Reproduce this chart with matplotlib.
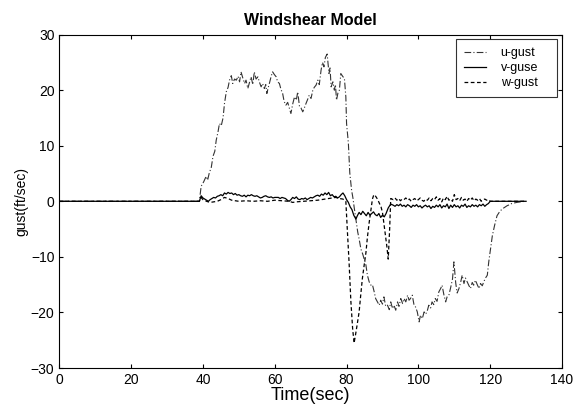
import matplotlib
matplotlib.use("Agg")
import matplotlib.pyplot as plt

# u-gust (dash-dot)
u_time = [0, 39, 39.5, 40.2, 40.9, 41.3, 41.8, 42.3, 42.8, 43.3, 43.7, 44.2, 44.6, 45.1,
          45.6, 46, 46.5, 47, 47.4, 47.9, 48.3, 48.8, 49.3, 49.8, 50.2, 50.6, 51.1, 51.6,
          52, 52.5, 53, 53.4, 53.9, 54.3, 54.8, 55.3, 55.7, 56.2, 56.6, 57.1, 57.5, 57.8,
          58.2, 58.5, 59, 59.4, 59.9, 60.4, 60.8, 61.3, 61.7, 62.2, 62.6, 63.1, 63.6, 64.1,
          64.5, 65, 65.5, 66, 66.4, 66.9, 67.3, 67.8, 68.3, 68.7, 69.2, 69.6, 70.1, 70.6,
          71, 71.5, 72, 72.4, 72.9, 73.3, 73.7, 74.1, 74.6, 75.1, 75.4, 75.7, 76.2, 76.6,
          76.9, 77.2, 77.6, 78, 78.4, 78.9, 79.4, 79.8, 80, 80.5, 80.9, 81.4, 81.8, 82.1,
          82.6, 83.1, 83.5, 84, 84.5, 84.9, 85.4, 85.8, 86.3, 86.8, 87.2, 87.7, 88.1, 88.6,
          89.1, 89.5, 90, 90.4, 90.9, 91.4, 91.9, 92.3, 92.8, 93.2, 93.7, 94.2, 94.6, 95.1,
          95.6, 96, 96.5, 97, 97.4, 97.8, 98.3, 98.8, 99.2, 99.7, 100.2, 100.6, 101.1, 101.6,
          102, 102.4, 102.9, 103.4, 103.8, 104.3, 104.7, 105.2, 105.7, 106.2, 106.6, 107.1,
          107.6, 108, 108.5, 109, 109.5, 109.9, 110.4, 110.8, 111.3, 111.8, 112.2, 112.7,
          113.1, 113.6, 114.1, 114.5, 115, 115.4, 115.9, 116.4, 116.9, 117.3, 117.8, 118.2,
          118.7, 119.2, 119.6, 120.1, 120.6, 121.2, 121.9, 122.6, 123.3, 124, 124.7, 125.4,
          126, 127.4, 128.5, 129.6]
u_gust = [0, 0, 2.7, 3.5, 4.5, 3.8, 5.2, 6.0, 8.1, 9.0, 11.0, 12.5, 14.0, 13.6,
          15.0, 17.6, 19.7, 20.5, 21.8, 22.6, 21.2, 22.0, 21.8, 22.5, 21.5, 23.3, 22.2, 21.2,
          21.8, 20.3, 21.5, 22.4, 21.0, 23.3, 22.0, 22.4, 21.5, 20.6, 21.2, 20.3, 21.0, 19.4,
          20.5, 21.2, 22.5, 23.3, 22.8, 22.4, 21.5, 21.2, 20.2, 19.4, 18.0, 17.3, 17.8, 16.7,
          15.8, 17.5, 18.8, 18.2, 19.7, 17.0, 16.8, 16.1, 16.9, 17.6, 18.4, 19.1, 18.5, 20.0,
          20.5, 20.9, 21.8, 21.0, 23.6, 25.0, 24.2, 25.9, 26.5, 23.0, 24.0, 20.6, 21.5, 20.0,
          21.0, 18.2, 19.5, 20.0, 23.0, 22.5, 22.1, 18.8, 14.0, 10.5, 5.1, 2.0, 0.5, -1.0,
          -3.2, -5.5, -6.8, -8.6, -9.5, -10.4, -11.5, -13.3, -14.5, -15.1, -15.0, -16.3, -17.5, -18.1,
          -18.7, -17.8, -18.5, -17.2, -18.9, -18.7, -19.5, -18.1, -19.3, -18.7, -19.6, -18.1, -18.9, -17.5,
          -18.4, -17.5, -18.1, -16.9, -17.8, -17.5, -16.9, -18.7, -19.0, -19.9, -21.7, -20.5, -21.1, -19.9,
          -20.3, -19.9, -18.7, -19.2, -18.1, -18.6, -17.5, -18.0, -16.3, -15.7, -15.1, -16.8,
          -18.1, -17.2, -16.9, -15.5, -14.0, -10.9, -14.7, -16.5, -15.7, -14.5, -13.3, -14.8,
          -13.8, -14.5, -15.2, -15.7, -14.6, -15.1, -14.2, -15.0, -15.7, -14.8, -15.2, -14.5,
          -13.8, -13.3, -10.9, -8.6, -6.2, -4.4, -2.6, -1.9, -1.4, -1.1, -0.8, -0.6,
          -0.4, -0.2, -0.1, 0]

# v-guse (solid)
v_time = [0, 39, 39.5, 40, 40.5, 41, 41.5, 42, 42.5, 43, 43.5, 44, 44.5, 45, 45.5, 46,
          46.5, 47, 47.5, 48, 48.5, 49, 49.5, 50, 50.5, 51, 51.5, 52, 52.5, 53, 53.5, 54,
          54.5, 55, 55.5, 56, 56.5, 57, 57.5, 58, 58.5, 59, 59.5, 60, 61, 61.5, 62, 62.5,
          63, 63.5, 64, 64.5, 65, 65.5, 66, 66.5, 67, 67.5, 68, 68.5, 69, 69.5, 70, 70.5,
          71, 71.5, 72, 72.5, 73, 73.5, 74, 74.5, 75, 75.5, 76, 76.5, 77, 77.5, 78, 78.5,
          79, 79.5, 80, 80.5, 81, 81.5, 82, 82.6, 83, 83.5, 84, 84.5, 85, 85.5, 86, 86.5,
          87, 87.5, 88, 88.5, 89, 89.5, 90, 90.5, 91, 91.6, 92, 92.3, 93, 93.5, 94, 94.5,
          95, 95.5, 96, 96.5, 97, 97.5, 98, 98.5, 99, 99.5, 100, 100.5, 101, 101.5, 102,
          102.5, 103, 103.5, 104, 104.5, 105, 105.5, 106, 106.5, 107, 107.5, 108, 108.5,
          109, 109.5, 110, 110.5, 111, 111.5, 112, 112.5, 113, 113.5, 114, 114.5, 115,
          115.5, 116, 116.5, 117, 117.5, 118, 118.5, 119, 119.5, 120, 130]
v_guse = [0, 0, 1.0, 0.6, 0.4, 0.2, 0.0, 0.3, 0.5, 0.7, 0.6, 0.9, 1.0, 1.2, 1.0, 1.5,
          1.3, 1.6, 1.4, 1.5, 1.2, 1.4, 1.1, 1.2, 1.0, 0.9, 1.1, 0.8, 1.1, 1.0, 1.2, 1.0,
          0.9, 1.0, 0.8, 0.6, 0.7, 0.9, 1.0, 0.8, 0.7, 0.8, 0.6, 0.7, 0.7, 0.5, 0.7, 0.6,
          0.5, 0.2, 0.0, 0.3, 0.7, 0.5, 0.8, 0.4, 0.3, 0.5, 0.4, 0.6, 0.3, 0.5, 0.7, 0.6,
          0.8, 1.0, 1.1, 0.9, 1.3, 1.1, 1.5, 1.2, 1.6, 1.0, 1.2, 0.8, 0.9, 0.6, 0.8, 1.2,
          1.5, 1.0, 0.3, -0.2, -1.0, -1.5, -2.5, -3.2, -2.6, -2.0, -2.4, -1.8, -2.2, -2.6, -2.0, -2.5,
          -2.2, -1.9, -2.4, -2.6, -2.2, -2.9, -2.5, -2.8, -2.2, -1.2, -0.8, -0.5, -0.7, -0.9, -0.6, -0.8,
          -0.5, -0.9, -0.7, -1.0, -0.6, -0.8, -1.1, -0.7, -0.9, -0.6, -1.0, -0.8, -1.2, -0.9, -0.7,
          -1.0, -0.8, -1.3, -0.9, -1.1, -0.7, -1.0, -0.6, -1.2, -0.8, -1.0, -0.5, -1.3,
          -0.7, -1.1, -0.6, -1.0, -0.8, -1.2, -0.7, -0.9, -0.5, -1.1, -0.8, -1.0, -0.6,
          -0.9, -0.7, -1.0, -0.6, -0.8, -0.5, -0.9, -0.6, -0.4, 0, 0]

# w-gust (dashed)
w_time = [0, 39, 39.5, 40, 41, 42, 43, 44, 45, 46, 47, 48, 49, 50, 52, 54, 56, 58, 60,
          62, 64, 65, 66, 68, 70, 72, 74, 76, 77, 78, 79, 79.8, 80.2, 80.7, 81.2, 81.7,
          82.1, 82.5, 83, 83.5, 84, 84.4, 84.9, 85.4, 85.8, 86.3, 86.8, 87.2, 87.6, 88.1,
          88.6, 89.1, 89.6, 90, 90.6, 91.2, 91.6, 92, 92.3, 93, 93.5, 94, 94.5, 95, 95.5,
          96, 96.5, 97, 97.5, 98, 98.5, 99, 99.5, 100, 100.5, 101, 101.5, 102, 102.5, 103,
          103.5, 104, 104.5, 105, 105.5, 106, 106.5, 107, 107.5, 108, 108.5, 109, 109.5,
          110, 110.5, 111, 111.5, 112, 112.5, 113, 113.5, 114, 114.5, 115, 115.5, 116,
          116.5, 117, 117.5, 118, 118.5, 119, 119.5, 120, 130]
w_gust = [0, 0, 0.7, 0.3, 0.0, -0.2, -0.1, 0.0, 0.3, 0.7, 0.5, 0.2, 0.1, 0.0, 0.1, 0.0, 0.1, 0.0, 0.2,
          0.1, 0.0, -0.2, -0.1, 0.0, 0.1, 0.2, 0.4, 0.6, 0.7, 0.5, 0.4, 0.0, -5.0, -11.0, -18.0, -23.0,
          -25.5, -24.0, -22.0, -19.9, -16.5, -13.9, -11.5, -9.2, -6.5, -3.8, -1.5, 0.4, 1.2, 0.9,
          0.4, -0.3, -1.0, -2.0, -5.0, -8.0, -10.4, -5.0, 0.5, 0.3, 0.6, 0.2, 0.5, 0.1, 0.4,
          0.3, 0.6, 0.2, 0.4, 0.0, 0.3, 0.5, 0.1, 0.3, 0.6, 0.2, 0.0, 0.4, 0.2, 0.6,
          0.1, 0.5, 0.3, 0.8, 0.2, 0.5, -0.1, 0.6, 0.3, 0.9, 0.2, 0.4, 0.0,
          1.2, 0.3, 0.5, 0.1, 0.7, 0.2, 0.4, 0.0, 0.5, 0.2, 0.6, 0.1, 0.4,
          0.2, 0.5, 0.0, 0.3, 0.4, 0.2, 0.3, 0, 0]

plt.rcParams['font.family'] = ['Liberation Sans', 'DejaVu Sans']

fig = plt.figure(figsize=(5.77, 4.07), dpi=100)
ax = fig.add_axes([0.1028, 0.0958, 0.8712, 0.8192])

ax.plot(u_time, u_gust, color='#333333', lw=0.8, linestyle=(0, (6, 2, 1, 2)), label='u-gust')
ax.plot(v_time, v_guse, color='black', lw=0.9, linestyle='-', label='v-guse')
ax.plot(w_time, w_gust, color='black', lw=0.9, linestyle=(0, (3, 2)), label='w-gust')

ax.set_xlim(0, 140)
ax.set_ylim(-30, 30)
ax.set_xticks(range(0, 141, 20))
ax.set_yticks(range(-30, 31, 10))
ax.tick_params(direction='in', top=True, right=True, labelsize=10, length=3, width=0.8)
for s in ax.spines.values():
    s.set_linewidth(0.8)

ax.set_title('Windshear Model', fontsize=11.5, fontweight='bold', pad=7)
ax.set_xlabel('Time(sec)', fontsize=13, labelpad=0)
ax.set_ylabel('gust(ft/sec)', fontsize=10, labelpad=2)

# MATLAB-style legend box: handles left, extra room on the right
leg = ax.legend(loc='upper left', bbox_to_anchor=(0.7885, 0.83, 0.2015, 0.157),
                mode='expand', borderaxespad=0, fontsize=9, frameon=True,
                fancybox=False, edgecolor='black', handlelength=1.75,
                handletextpad=1.2, borderpad=0.65, labelspacing=0.25)
leg.get_frame().set_linewidth(0.8)

fig.savefig('out.png', dpi=100)
